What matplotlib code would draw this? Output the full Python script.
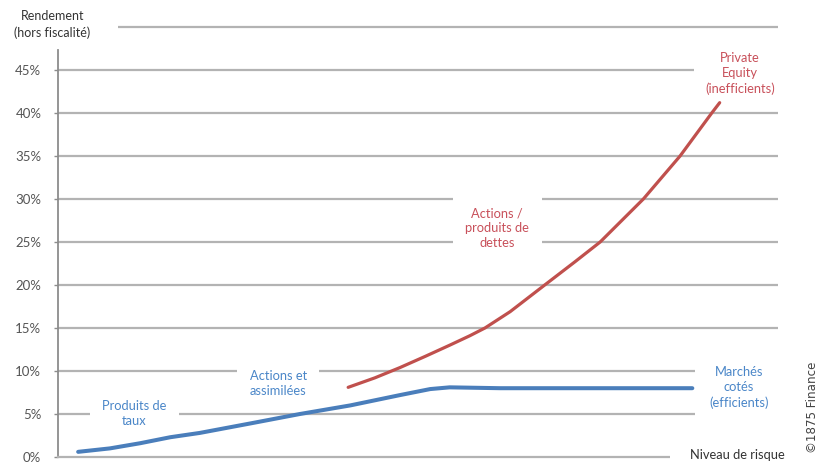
import matplotlib.pyplot as plt

plt.rcParams['font.family'] = ['Lato', 'DejaVu Sans']

# risk level (0-100, arbitrary units) vs return (%)
blue_risk = [2.8, 7.2, 11.4, 15.6, 19.7, 26.7, 33.6, 40.6, 47.5, 51.7, 54.4, 61.4, 88.1]
blue_ret = [0.6, 1.0, 1.6, 2.3, 2.8, 3.9, 5.0, 6.0, 7.2, 7.9, 8.1, 8.0, 8.0]

red_risk = [40.3, 44.0, 47.5, 51.0, 54.4, 57.2, 59.3, 62.8, 67.6, 71.8, 75.3, 81.3,
            86.4, 90.8, 91.9]
red_ret = [8.1, 9.2, 10.4, 11.7, 13.0, 14.1, 15.0, 16.9, 20.0, 22.7, 25.0, 30.0,
           35.0, 40.0, 41.2]

y_ticks = [0, 5, 10, 15, 20, 25, 30, 35, 40, 45]
y_labels = ['0%', '5%', '10%', '15%', '20%', '25%', '30%', '35%', '40%', '45%']
grid_levels = [5, 10, 15, 20, 25, 30, 35, 40, 45]

BLUE = '#4a7ebb'
RED = '#c0504d'
BLUE_TXT = '#4a86c8'
RED_TXT = '#c8505a'
GRID = '#b3b3b3'

W, H = 821, 463
fig = plt.figure(figsize=(W / 100, H / 100), dpi=100)
# axes: x 58..778 px, 0% at y=457, 8.6 px per 1%
ymax = 51
ax = fig.add_axes([58 / W, (H - 457) / H, 720 / W, 8.6 * ymax / H])
ax.set_xlim(0, 100)
ax.set_ylim(0, ymax)

ax.hlines(grid_levels, 0, 100, color=GRID, lw=1.6, zorder=1)
ax.hlines(50, 8.3, 100, color=GRID, lw=1.6, zorder=1)

for s in ['top', 'right']:
    ax.spines[s].set_visible(False)
ax.spines['left'].set_color('#8c8c8c')
ax.spines['left'].set_linewidth(1.3)
ax.spines['left'].set_bounds(0, 47.3)
ax.spines['bottom'].set_color(GRID)
ax.spines['bottom'].set_linewidth(1.6)
ax.set_xticks([])
ax.set_yticks(y_ticks)
ax.set_yticklabels(y_labels)
ax.tick_params(axis='y', length=3, width=1, color='#8c8c8c', pad=9,
               labelsize=9.5, labelcolor='#555555')

ax.plot(blue_risk, blue_ret, color=BLUE, lw=2.9, solid_capstyle='round',
        solid_joinstyle='round', zorder=4)
ax.plot(red_risk, red_ret, color=RED, lw=2.3, solid_capstyle='round',
        solid_joinstyle='round', zorder=4)


def label(x, y, txt, color, pad=6, size=9.3):
    ax.text(x, y, txt, color=color, fontsize=size, ha='center', va='center',
            linespacing=1.3, zorder=3, clip_on=False,
            bbox=dict(facecolor='white', edgecolor='none', pad=pad))


label(10.6, 5.1, 'Produits de\ntaux', BLUE_TXT, pad=9)
label(30.6, 8.5, 'Actions et\nassimilées', BLUE_TXT, pad=9)
label(61.0, 26.6, 'Actions /\nproduits de\ndettes', RED_TXT, pad=9)
label(94.7, 44.6, 'Private\nEquity\n(inefficients)', RED_TXT, pad=8)
label(94.6, 8.1, 'Marchés\ncotés\n(efficients)', BLUE_TXT, pad=10)

ax.text(94.3, 0.25, 'Niveau de risque', color='#333333', fontsize=9.3,
        ha='center', va='center', zorder=3, clip_on=False,
        bbox=dict(facecolor='white', edgecolor='none', pad=14))
ax.text(-0.8, 50.3, 'Rendement\n(hors fiscalité)', color='#333333', fontsize=9,
        ha='center', va='center', linespacing=1.45, zorder=3, clip_on=False,
        bbox=dict(facecolor='white', edgecolor='none', pad=6))

fig.text(812 / W, 1 - 407 / H, '©1875 Finance', rotation=90, fontsize=8.6,
         color='#444444', ha='center', va='center', family='DejaVu Sans')

fig.savefig('out.png', dpi=100)
